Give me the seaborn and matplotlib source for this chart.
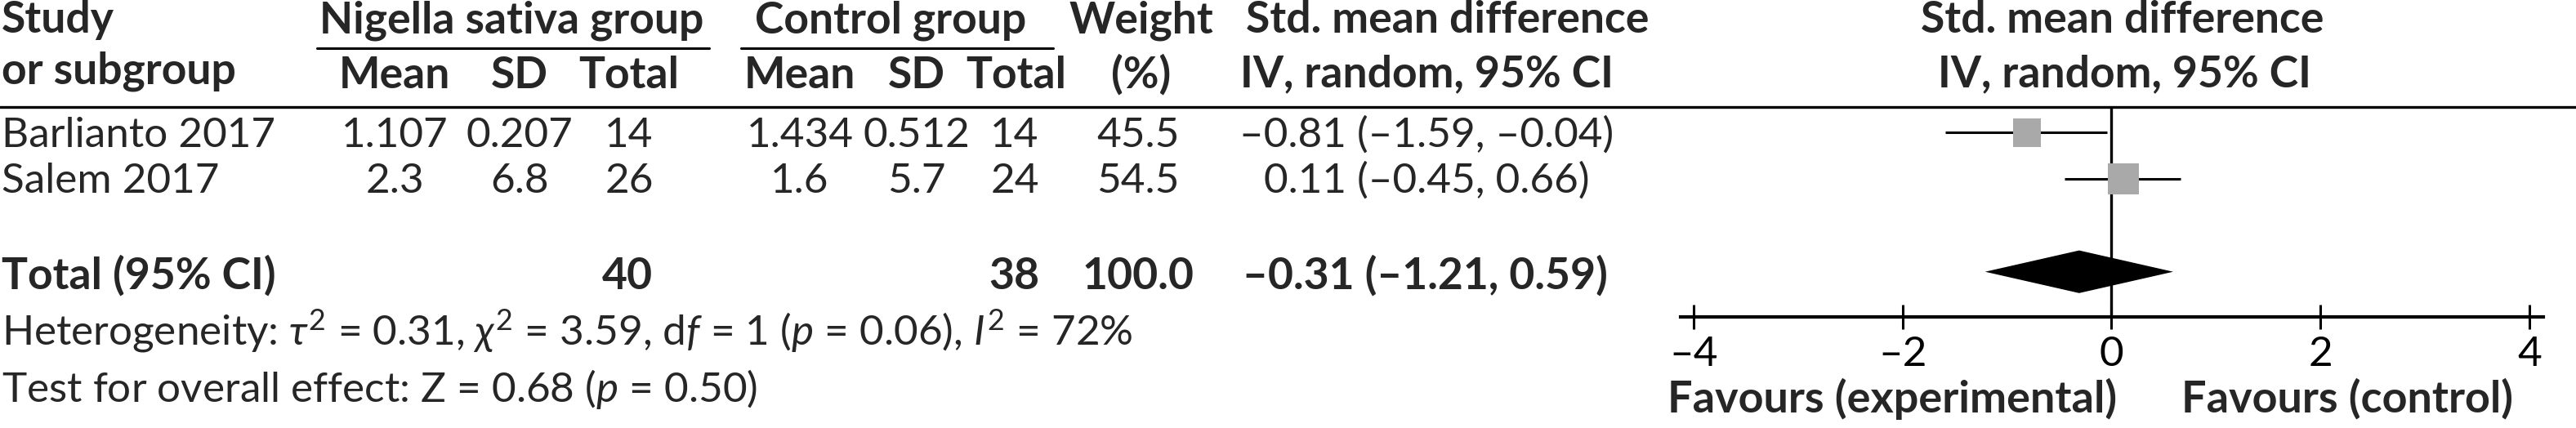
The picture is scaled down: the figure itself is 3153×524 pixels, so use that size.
import matplotlib
matplotlib.use("Agg")
import matplotlib.pyplot as plt
import numpy as np
import pandas as pd
import seaborn as sns
from matplotlib.lines import Line2D

# study level data
studies = ['Barlianto 2017', 'Salem 2017']
ns_mean = [1.107, 2.3]
ns_sd = [0.207, 6.8]
ns_total = [14, 26]
ctl_mean = [1.434, 1.6]
ctl_sd = [0.512, 5.7]
ctl_total = [14, 24]
weights = [45.5, 54.5]
smd = [-0.81, 0.11]
ci_low = [-1.59, -0.45]
ci_high = [-0.04, 0.66]

# pooled result
total_ns = 40
total_ctl = 38
total_weight = 100.0
pooled_smd = -0.31
pooled_low = -1.21
pooled_high = 0.59

xticks = [-4, -2, 0, 2, 4]

W, H = 3153, 524
FONT = 'Lato'

sns.set_style('white')
plt.rcParams['font.family'] = [FONT, 'DejaVu Sans']
plt.rcParams['mathtext.fontset'] = 'custom'
plt.rcParams['mathtext.rm'] = FONT
plt.rcParams['mathtext.it'] = FONT + ':italic'
plt.rcParams['mathtext.bf'] = FONT + ':bold'


def dash(v):
    return f'{v:.2f}'.replace('-', '\u2013')


def ci_text(est, lo, hi):
    return f'{dash(est)} ({dash(lo)}, {dash(hi)})'


fig = plt.figure(figsize=(W / 100, H / 100), dpi=100)
renderer = fig.canvas.get_renderer()


def fit_size(s, width_px, bold=False):
    # font size that makes the string about as wide as in the original
    t = fig.text(0, 0, s, fontsize=100, fontweight='bold' if bold else 'normal')
    w = t.get_window_extent(renderer=renderer).width
    t.remove()
    return 100 * width_px / w


FS = np.median([fit_size('Barlianto 2017', 335),
                fit_size(ci_text(smd[0], ci_low[0], ci_high[0]), 445),
                fit_size('Test for overall effect: Z = 0.68 (p = 0.50)', 957)])
FS_B = np.median([fit_size('Total (95% CI)', 332, True),
                  fit_size('Std. mean difference', 498, True),
                  fit_size('Nigella sativa group', 485, True),
                  fit_size('Control group', 328, True)])
FS_FAV = fit_size('Favours (experimental)', 550, True)


def put(x, y, s, ha='center', bold=False, size=None):
    if size is None:
        size = FS_B if bold else FS
    fig.text(x / W, 1 - y / H, s, ha=ha, va='baseline', fontsize=size,
             fontweight='bold' if bold else 'normal')


def hline(x0, x1, y, lw):
    fig.add_artist(Line2D([x0 / W, x1 / W], [1 - y / H, 1 - y / H],
                          color='black', lw=lw, transform=fig.transFigure))


# header
put(2, 40, 'Study', ha='left', bold=True)
put(2, 103, 'or subgroup', ha='left', bold=True)
put(626, 40, 'Nigella sativa group', bold=True)
put(1090, 40, 'Control group', bold=True)
put(1397, 40, 'Weight', bold=True)
put(1397, 108, '(%)', bold=True)
put(1772, 40, 'Std. mean difference', bold=True)
put(1747, 106, 'IV, random, 95% CI', bold=True)
put(2598, 40, 'Std. mean difference', bold=True)
put(2600, 106, 'IV, random, 95% CI', bold=True)
for x, lab in zip([483, 636, 770, 979, 1122, 1244], ['Mean', 'SD', 'Total'] * 2):
    put(x, 108, lab, bold=True)
hline(388, 868, 59, 2.2)
hline(907, 1289, 59, 2.2)
hline(0, W, 131, 2.4)

# study rows
row_base = [180, 236]
for i, name in enumerate(studies):
    y = row_base[i]
    put(2, y, name, ha='left')
    put(483, y, str(ns_mean[i]))
    put(636, y, str(ns_sd[i]))
    put(770, y, str(ns_total[i]))
    put(979, y, str(ctl_mean[i]))
    put(1122, y, str(ctl_sd[i]))
    put(1242, y, str(ctl_total[i]))
    put(1393, y, f'{weights[i]:.1f}')
    put(1746, y, ci_text(smd[i], ci_low[i], ci_high[i]))

# total row
put(2, 354, 'Total (95% CI)', ha='left', bold=True)
put(768, 354, str(total_ns), bold=True)
put(1241, 354, str(total_ctl), bold=True)
put(1393, 354, f'{total_weight:.1f}', bold=True)
put(1744, 354, ci_text(pooled_smd, pooled_low, pooled_high), bold=True)

put(2, 423, r'Heterogeneity: $\tau^2$ = 0.31, $\chi^2$ = 3.59, d$f$ = 1 ($p$ = 0.06), $I^2$ = 72%',
    ha='left')
put(2, 492, r'Test for overall effect: Z = 0.68 ($p$ = 0.50)', ha='left')

# forest panel
ax = fig.add_axes([2057 / W, 1 - 388 / H, (3113 - 2057) / W, (388 - 131) / H])
df = pd.DataFrame({'study': studies, 'smd': smd, 'low': ci_low,
                   'high': ci_high, 'weight': weights})
df['row'] = np.arange(len(df))
total_row = len(df) + 1

ax.hlines(df['row'], df['low'], df['high'], color='black', lw=2.2, zorder=2)
k = 13.8
sns.scatterplot(data=df, x='smd', y='row', size='weight',
                sizes=(min(weights) * k, max(weights) * k), marker='s',
                color='#a9a9a9', edgecolor='none', legend=False, ax=ax, zorder=3)
h = 0.46
ax.fill([pooled_low, pooled_smd, pooled_high, pooled_smd],
        [total_row, total_row - h, total_row, total_row + h],
        color='black', lw=0, zorder=3)
ax.axvline(0, color='black', lw=2.4, zorder=1)

ax.set_xlim(-4.125, 4.133)
ax.set_ylim(3.974, -0.553)
ax.set_xticks(xticks)
ax.set_xticklabels([str(t).replace('-', '\u2013') for t in xticks])
ax.set_yticks([])
ax.set_xlabel('')
ax.set_ylabel('')
for side in ['top', 'left', 'right']:
    ax.spines[side].set_visible(False)
ax.spines['bottom'].set_linewidth(3)
ax.spines['bottom'].set_color('black')
ax.tick_params(axis='x', direction='inout', length=21, width=2.2,
               labelsize=FS, pad=6, bottom=True, colors='black')
ax.patch.set_alpha(0)

put(2316, 505, 'Favours (experimental)', bold=True, size=FS_FAV)
put(2873, 505, 'Favours (control)', bold=True, size=FS_FAV)

fig.savefig('out.png', dpi=100)
